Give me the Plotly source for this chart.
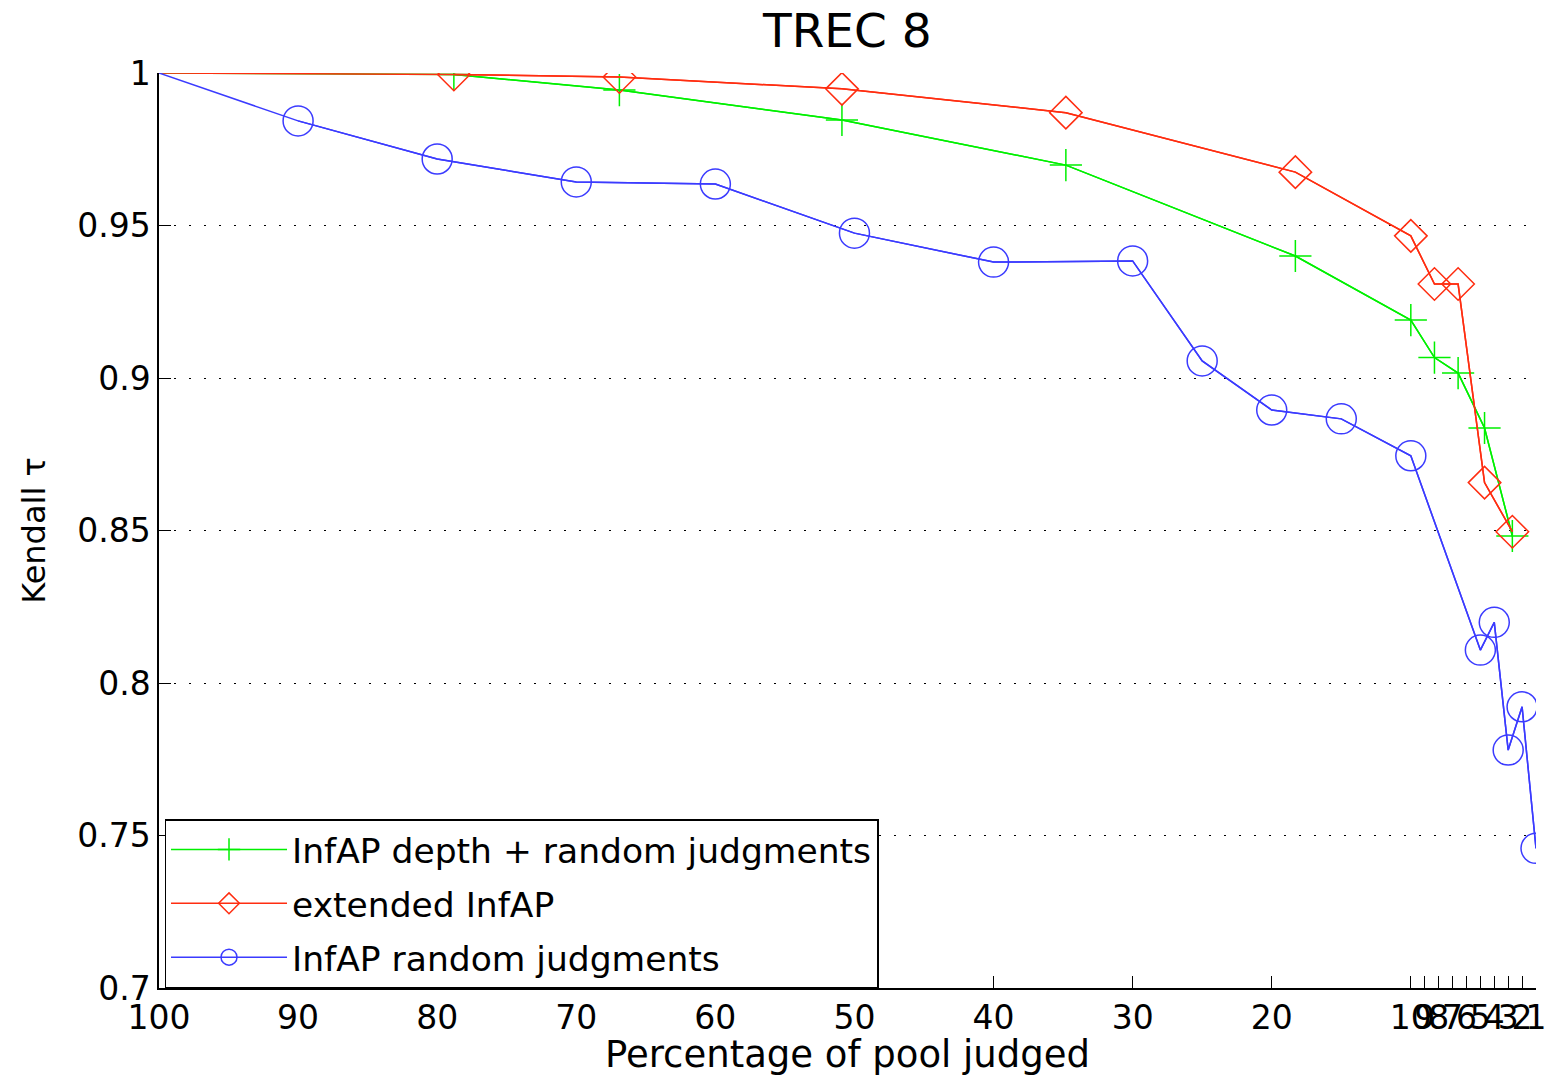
import plotly.graph_objects as go

# ---- data ----
green_x = [100, 78.8, 66.9, 50.9, 34.8, 18.3, 10, 8.3, 6.6, 4.7, 2.7]
green_y = [1.0, 0.9995, 0.9944, 0.9846, 0.9698, 0.9400, 0.9190, 0.9067, 0.9016, 0.8836, 0.8482]

red_x = [100, 78.8, 66.9, 50.9, 34.8, 18.3, 10, 8.3, 6.6, 4.7, 2.7]
red_y = [1.0, 0.9995, 0.9987, 0.9948, 0.9870, 0.9675, 0.9466, 0.9308, 0.9308, 0.8657, 0.8496]

blue_x = [100, 90, 80, 70, 60, 50, 40, 30, 25, 20, 15, 10, 5, 4, 3, 2, 1]
blue_y = [1.0, 0.9843, 0.9718, 0.9643, 0.9636, 0.9475, 0.9380, 0.9384, 0.9056,
          0.8895, 0.8866, 0.8745, 0.8108, 0.8199, 0.7780, 0.7922, 0.7458]

x_ticks = [100, 90, 80, 70, 60, 50, 40, 30, 20, 10, 9, 8, 7, 6, 5, 4, 3, 2, 1]
y_ticks = [0.7, 0.75, 0.8, 0.85, 0.9, 0.95, 1.0]
y_ticktext = ["0.7", "0.75", "0.8", "0.85", "0.9", "0.95", "1"]

names = ["InfAP depth + random judgments", "extended InfAP", "InfAP random judgments"]
colors = ["#00f000", "#ff2d10", "#3b3bff"]

FONT = "DejaVu Sans, Liberation Sans, Arial, sans-serif"

fig = go.Figure()

series = [
    (green_x, green_y, "cross-thin-open", 23, names[0], colors[0]),
    (red_x, red_y, "diamond-open", 25, names[1], colors[1]),
    (blue_x, blue_y, "circle-open", 30, names[2], colors[2]),
]
for i, (xs, ys, sym, sz, nm, col) in enumerate(series):
    grp = "g%d" % i
    # full line (first point at 100 carries no marker in reference)
    fig.add_trace(go.Scatter(x=xs, y=ys, mode="lines", line=dict(color=col, width=1.5),
                             showlegend=False, hoverinfo="skip", legendgroup=grp))
    fig.add_trace(go.Scatter(x=xs[1:], y=ys[1:], mode="lines+markers", name=nm,
                             legendgroup=grp,
                             line=dict(color=col, width=1.5),
                             marker=dict(symbol=sym, size=sz, color=col,
                                         line=dict(color=col, width=1.5))))

fig.update_layout(
    width=1549, height=1076,
    margin=dict(l=159, r=13, t=73, b=88, autoexpand=False),
    paper_bgcolor="white", plot_bgcolor="white",
    font=dict(family=FONT, size=30, color="black"),
    title=dict(text="TREC 8", x=0.547, xanchor="center", y=0.972, yanchor="middle",
               font=dict(size=47, family=FONT, color="black")),
    showlegend=True,
    legend=dict(x=0.004, y=0.0, xanchor="left", yanchor="bottom",
                bgcolor="white", bordercolor="black", borderwidth=1.5,
                font=dict(size=34.5, family=FONT, color="black"),
                itemwidth=116, tracegroupgap=6, itemsizing="trace"),
)

fig.update_xaxes(
    range=[100, 1], autorange=False, automargin=False,
    tickmode="array", tickvals=x_ticks, ticktext=[str(v) for v in x_ticks],
    tickangle=0,
    ticks="inside", ticklen=12, tickwidth=1.2, tickcolor="black",
    showline=True, linecolor="black", linewidth=1.5,
    showgrid=False, zeroline=False,
    tickfont=dict(size=33, family=FONT),
    title=dict(text="Percentage of pool judged", font=dict(size=37, family=FONT), standoff=0),
)
fig.update_yaxes(
    range=[0.7, 1.0], autorange=False, automargin=False,
    tickmode="array", tickvals=y_ticks, ticktext=y_ticktext,
    ticks="inside", ticklen=12, tickwidth=1.2, tickcolor="black",
    showline=True, linecolor="black", linewidth=1.5,
    showgrid=True, gridcolor="black", gridwidth=1, griddash="2px,13px",
    zeroline=False,
    tickfont=dict(size=33, family=FONT),
    title=dict(text="Kendall τ", font=dict(size=32, family=FONT), standoff=22),
)

fig.write_html("out.html")
